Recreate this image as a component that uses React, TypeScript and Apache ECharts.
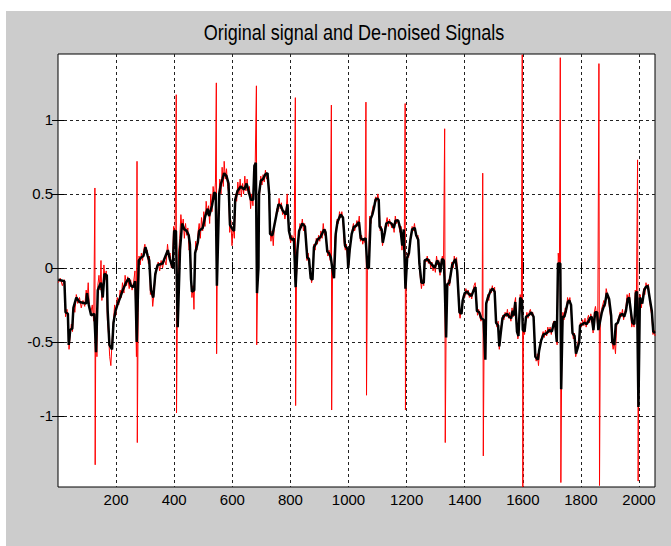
import React, { useEffect, useRef } from 'react';
import * as echarts from 'echarts';

const titleText = 'Original signal and De-noised Signals';
const xTicks = [200, 400, 600, 800, 1000, 1200, 1400, 1600, 1800, 2000];
const yTicks = [-1, -0.5, 0, 0.5, 1];
const xMin = 0;
const xMax = 2055;
const yMin = -1.48;
const yMax = 1.445;

// De-noised signal (black)
const denoised: number[][] = [
  [1, -0.08], [22, -0.09], [26, -0.3], [34, -0.31], [37, -0.52], [42, -0.42], [49, -0.41], [53, -0.27], [63, -0.2], [74, -0.23],
  [97, -0.24], [100, -0.17], [106, -0.25], [114, -0.32], [125, -0.31], [131, -0.57], [137, -0.15], [143, -0.12], [148, -0.1], [154, -0.2],
  [160, -0.04], [168, -0.05], [171, -0.29], [177, -0.52], [186, -0.55], [191, -0.37], [198, -0.29], [206, -0.24], [214, -0.2], [223, -0.15],
  [234, -0.1], [243, -0.07], [251, -0.12], [259, -0.13], [266, -0.09], [271, -0.5], [278, 0.05], [286, 0.07], [294, 0.08], [301, 0.14],
  [309, 0.08], [314, 0.05], [320, -0.15], [328, -0.2], [335, -0.04],
  [343, 0.02], [360, 0.03], [378, 0.12], [385, 0.06], [395, 0.0], [400, 0.25], [406, 0.25], [412, -0.4], [420, 0.12], [427, 0.3],
  [435, 0.26], [443, 0.25], [450, 0.22], [454, 0.16], [458, -0.08], [461, -0.16], [469, -0.15], [472, 0.1], [481, 0.17], [486, 0.25],
  [498, 0.27], [507, 0.35], [515, 0.4], [520, 0.35], [530, 0.42], [538, 0.51], [543, 0.5], [547, -0.12], [555, 0.5], [561, 0.57],
  [566, 0.6], [572, 0.64], [580, 0.62], [587, 0.57], [592, 0.29], [598, 0.27], [606, 0.25], [610, 0.46], [618, 0.52], [629, 0.55],
  [641, 0.53], [649, 0.57], [656, 0.52], [664, 0.46], [672, 0.46], [676, 0.69], [681, 0.71], [685, -0.17], [690, 0.0],
  [692, 0.5], [698, 0.59], [706, 0.6], [713, 0.63], [721, 0.64], [727, 0.5], [730, 0.23], [738, 0.22], [744, 0.28], [752, 0.36],
  [759, 0.43], [767, 0.42], [773, 0.39], [784, 0.36], [790, 0.43], [795, 0.25], [801, 0.2], [807, 0.19], [812, 0.2], [818, -0.13],
  [824, 0.12], [830, 0.25], [841, 0.3], [850, 0.28], [858, 0.07], [864, 0.06], [870, -0.07], [876, -0.08], [881, 0.14], [887, 0.16],
  [893, 0.19], [904, 0.21], [916, 0.26], [921, 0.24], [927, 0.11], [933, 0.1], [939, 0.07], [944, 0.0], [950, -0.07], [956, 0.23],
  [962, 0.31], [973, 0.36], [981, 0.34], [988, 0.15], [996, 0.13], [999, 0.0], [1004, 0.12], [1011, 0.23], [1019, 0.28], [1024, 0.28],
  [1036, 0.31], [1042, 0.2], [1049, 0.19], [1059, 0.2], [1065, 0.0], [1070, 0.0], [1076, 0.33], [1082, 0.36], [1087, 0.4], [1093, 0.46],
  [1099, 0.47], [1104, 0.46], [1107, 0.28], [1114, 0.26], [1118, 0.17], [1125, 0.24], [1130, 0.3], [1139, 0.31], [1148, 0.3], [1156, 0.27],
  [1162, 0.32], [1171, 0.32], [1179, 0.26], [1185, 0.15], [1190, 0.26], [1196, -0.14], [1202, 0.07], [1208, 0.1], [1213, 0.19], [1219, 0.26],
  [1228, 0.27], [1233, 0.22], [1240, 0.19], [1244, 0.03], [1251, -0.1], [1259, -0.1], [1262, 0.05], [1271, 0.06], [1279, 0.04], [1288, 0.02],
  [1297, 0.0], [1305, 0.05], [1311, 0.03], [1316, -0.03], [1322, 0.06], [1328, 0.05], [1331, -0.1], [1336, -0.47], [1340, -0.11], [1347, -0.1],
  [1357, 0.02], [1368, 0.06],
  [1374, -0.02], [1382, -0.3], [1389, -0.31], [1393, -0.22], [1400, -0.17], [1408, -0.16], [1416, -0.18], [1423, -0.19], [1431, -0.15], [1437, -0.13],
  [1442, -0.29], [1450, -0.3], [1457, -0.34], [1465, -0.35], [1471, -0.62], [1474, -0.24], [1480, -0.2], [1488, -0.16], [1496, -0.14], [1503, -0.16],
  [1508, -0.37], [1515, -0.39], [1519, -0.53], [1524, -0.44], [1530, -0.34], [1537, -0.32], [1546, -0.31], [1553, -0.33], [1560, -0.34], [1565, -0.29],
  [1570, -0.32], [1574, -0.23], [1580, -0.43], [1585, -0.46], [1591, -0.2], [1597, -0.22], [1600, -0.42], [1606, -0.43], [1611, -0.33], [1620, -0.32],
  [1629, -0.3], [1637, -0.33], [1643, -0.6], [1652, -0.62], [1656, -0.56], [1663, -0.49], [1671, -0.45], [1683, -0.44], [1691, -0.42], [1700, -0.43],
  [1706, -0.38], [1711, -0.36],
  [1717, -0.5], [1721, 0.03], [1729, 0.03], [1732, -0.82], [1737, -0.33], [1743, -0.33], [1748, -0.29], [1755, -0.23], [1760, -0.22], [1766, -0.25],
  [1771, -0.44], [1778, -0.46], [1783, -0.58], [1789, -0.54], [1794, -0.5], [1797, -0.39], [1805, -0.38], [1812, -0.37], [1820, -0.38], [1826, -0.36],
  [1831, -0.34], [1837, -0.33], [1843, -0.42], [1849, -0.3], [1856, -0.3], [1860, -0.42], [1866, -0.36], [1872, -0.3], [1877, -0.27], [1883, -0.24],
  [1889, -0.17], [1897, -0.21], [1904, -0.32], [1908, -0.5], [1915, -0.52], [1920, -0.38], [1927, -0.37], [1935, -0.32], [1943, -0.31], [1949, -0.33],
  [1955, -0.29], [1961, -0.21], [1966, -0.2], [1973, -0.31], [1977, -0.37], [1984, -0.38], [1989, -0.17], [1993, -0.16], [1998, -0.94], [2003, -0.2],
  [2011, -0.24], [2018, -0.15], [2023, -0.13], [2030, -0.12], [2038, -0.22], [2044, -0.29], [2049, -0.43], [2055, -0.44],
];

// Original noisy signal (red)
const original: number[][] = [
  [1, -0.1], [8, -0.07], [15, -0.12], [22, -0.08], [26, -0.33], [31, -0.28], [35, -0.36], [38, -0.55], [42, -0.45], [46, -0.38],
  [50, -0.43], [54, -0.25], [58, -0.3], [63, -0.18], [68, -0.24], [74, -0.2], [80, -0.27], [86, -0.22], [92, -0.26], [97, -0.15],
  [101, -0.2], [104, -0.1], [108, -0.28], [113, -0.3], [118, -0.25], [123, -0.36], [127, 0.54], [128, -1.33], [130, -0.4], [134, -0.6],
  [137, -0.12], [141, -0.05], [145, -0.15], [148, 0.05], [151, -0.22], [155, -0.12], [158, 0.02], [162, -0.08], [166, -0.02], [170, -0.35],
  [174, -0.45], [178, -0.6], [182, -0.66], [186, -0.5], [190, -0.38], [195, -0.25], [199, -0.32], [204, -0.2], [209, -0.25], [214, -0.15],
  [218, -0.2], [222, -0.1], [227, -0.17], [231, -0.05], [236, -0.12], [240, -0.06], [245, -0.14], [250, -0.08], [255, -0.15], [260, -0.1],
  [265, -0.02], [270, -0.6], [272, 0.72], [273, -1.18], [276, -0.3], [279, 0.08], [283, 0.02], [287, 0.1], [291, 0.05], [295, 0.12],
  [299, 0.16], [303, 0.1], [307, 0.12], [311, 0.03], [315, 0.08], [318, -0.18], [322, -0.12], [326, -0.26], [330, -0.18], [335, -0.06],
  [340, 0.0], [345, 0.04], [350, -0.02], [355, 0.05], [360, 0.0], [366, 0.06], [372, 0.02], [377, 0.16], [381, 0.08], [386, 0.1],
  [390, 0.0], [394, 0.04], [398, 0.28], [403, 0.2], [407, 1.17], [408, -0.98], [411, -0.3], [415, 0.1], [419, 0.2], [423, 0.36],
  [427, 0.26], [431, 0.33], [435, 0.2], [439, 0.3], [443, 0.22], [447, 0.27], [451, 0.12], [455, 0.15], [458, -0.05], [461, -0.2],
  [465, -0.12], [468, -0.28], [471, 0.0], [474, 0.18], [478, 0.12], [482, 0.24], [486, 0.3], [490, 0.2], [494, 0.34], [498, 0.25],
  [502, 0.38], [506, 0.28], [510, 0.45], [514, 0.36], [518, 0.42], [522, 0.3], [526, 0.5], [530, 0.38], [534, 0.55], [538, 0.46],
  [542, 0.58], [545, 1.25], [546, -0.58], [549, 0.2], [553, 0.45], [557, 0.6], [561, 0.5], [565, 0.68], [569, 0.55], [572, 0.72],
  [576, 0.6], [580, 0.67], [584, 0.55], [588, 0.5], [591, 0.24], [595, 0.32], [599, 0.15], [603, 0.28], [607, 0.2], [611, 0.5],
  [615, 0.45], [619, 0.58], [623, 0.5], [627, 0.6], [631, 0.48], [635, 0.57], [639, 0.5], [643, 0.62], [647, 0.52], [651, 0.6],
  [655, 0.5], [659, 0.55], [663, 0.4], [667, 0.5], [671, 0.42], [675, 0.6], [679, 0.72], [683, 1.23], [684, -0.52], [687, -0.1],
  [690, 0.35], [694, 0.5], [698, 0.62], [702, 0.56], [706, 0.63], [710, 0.58], [714, 0.66], [718, 0.6], [722, 0.64], [726, 0.52],
  [729, 0.3], [733, 0.18], [737, 0.25], [741, 0.15], [745, 0.3], [749, 0.33], [753, 0.4], [757, 0.38], [761, 0.47], [765, 0.4],
  [769, 0.44], [773, 0.36], [777, 0.39], [781, 0.33], [785, 0.38], [789, 0.5], [793, 0.3], [797, 0.22], [801, 0.17], [805, 0.22],
  [809, 0.18], [813, 0.22], [817, 1.15], [818, -0.93], [821, -0.05], [825, 0.14], [829, 0.23], [833, 0.3], [837, 0.27], [841, 0.33],
  [845, 0.25], [849, 0.3], [853, 0.22], [857, 0.05], [861, 0.1], [865, 0.02], [869, -0.05], [873, -0.1], [877, -0.04], [881, 0.16],
  [885, 0.12], [889, 0.2], [893, 0.16], [897, 0.22], [901, 0.18], [905, 0.25], [909, 0.2], [913, 0.3], [917, 0.22], [921, 0.26],
  [925, 0.14], [929, 0.08], [933, 0.12], [937, 0.05], [941, 1.1], [942, -0.96], [945, -0.02], [949, -0.05], [953, 0.2], [957, 0.25],
  [961, 0.33], [965, 0.3], [969, 0.38], [973, 0.34], [977, 0.38], [981, 0.32], [985, 0.17], [989, 0.12], [993, 0.16], [997, 0.05],
  [1001, 0.02], [1005, 0.14], [1009, 0.2], [1013, 0.26], [1017, 0.3], [1021, 0.25], [1025, 0.28], [1029, 0.32], [1033, 0.28], [1037, 0.35],
  [1041, 0.18], [1045, 0.22], [1049, 0.16], [1053, 0.2], [1057, 0.17], [1060, 1.12], [1062, -0.86], [1065, -0.02], [1069, 0.02], [1073, 0.35],
  [1077, 0.3], [1081, 0.38], [1085, 0.42], [1089, 0.4], [1093, 0.48], [1097, 0.45], [1101, 0.5], [1105, 0.44], [1109, 0.25], [1113, 0.28],
  [1117, 0.15], [1121, 0.2], [1125, 0.27], [1129, 0.3], [1133, 0.34], [1137, 0.28], [1141, 0.33], [1145, 0.3], [1149, 0.27], [1153, 0.3],
  [1157, 0.24], [1161, 0.35], [1165, 0.3], [1169, 0.33], [1173, 0.29], [1177, 0.24], [1181, 0.28], [1184, 0.12], [1188, 0.24], [1192, 0.2],
  [1195, 1.11], [1196, -0.96], [1199, 0.0], [1203, 0.1], [1207, 0.07], [1211, 0.16], [1215, 0.22], [1219, 0.28], [1223, 0.25], [1227, 0.3],
  [1231, 0.24], [1235, 0.2], [1239, 0.22], [1243, 0.05], [1247, -0.06], [1251, -0.14], [1255, -0.08], [1259, -0.12], [1263, 0.06], [1267, 0.04],
  [1271, 0.08], [1275, 0.03], [1279, 0.06], [1283, 0.0], [1287, 0.04], [1291, -0.02], [1295, 0.02], [1299, -0.03], [1303, 0.08], [1307, 0.02],
  [1311, 0.05], [1315, -0.05], [1319, 0.04], [1323, 0.08], [1327, 0.03], [1331, 0.94], [1333, -1.18], [1336, -0.4], [1340, -0.14], [1344, -0.08],
  [1348, -0.12], [1352, -0.05], [1356, 0.04], [1360, 0.0], [1364, 0.08], [1368, 0.04], [1372, 0.07], [1376, -0.05], [1380, -0.28], [1384, -0.34],
  [1388, -0.28], [1392, -0.25], [1396, -0.18], [1400, -0.2], [1404, -0.14], [1408, -0.18], [1412, -0.15], [1416, -0.2], [1420, -0.17], [1424, -0.21],
  [1428, -0.16], [1432, -0.12], [1436, -0.1], [1440, -0.2], [1444, -0.32], [1448, -0.28], [1452, -0.33], [1456, -0.36], [1460, -0.32], [1462, 0.64],
  [1464, -1.27], [1467, -0.4], [1471, -0.55], [1475, -0.25], [1479, -0.18], [1483, -0.22], [1487, -0.14], [1491, -0.17], [1495, -0.12], [1499, -0.16],
  [1503, -0.13], [1507, -0.35], [1511, -0.4], [1515, -0.36], [1519, -0.55], [1523, -0.42], [1527, -0.38], [1531, -0.32], [1535, -0.35], [1539, -0.3],
  [1543, -0.33], [1547, -0.28], [1551, -0.34], [1555, -0.3], [1559, -0.36], [1563, -0.27], [1567, -0.33], [1571, -0.25], [1575, -0.2], [1579, -0.4],
  [1583, -0.48], [1587, -0.42], [1591, -0.18], [1595, -0.24], [1598, 1.44], [1600, -1.48], [1602, -0.4], [1606, -0.45], [1610, -0.35], [1614, -0.3],
  [1618, -0.34], [1622, -0.3], [1626, -0.28], [1630, -0.32], [1634, -0.3], [1638, -0.36], [1642, -0.58], [1646, -0.63], [1650, -0.58], [1654, -0.66],
  [1658, -0.54], [1662, -0.5], [1666, -0.46], [1670, -0.43], [1674, -0.47], [1678, -0.42], [1682, -0.46], [1686, -0.4], [1690, -0.44], [1694, -0.4],
  [1698, -0.45], [1702, -0.4], [1706, -0.36], [1710, -0.38], [1714, -0.46], [1718, -0.52], [1722, 0.1], [1726, 0.0], [1729, 1.42], [1731, -1.45],
  [1734, -0.6], [1738, -0.3], [1742, -0.35], [1746, -0.27], [1750, -0.3], [1754, -0.2], [1758, -0.24], [1762, -0.2], [1766, -0.27], [1770, -0.42],
  [1774, -0.48], [1778, -0.44], [1782, -0.6], [1786, -0.56], [1790, -0.5], [1794, -0.47], [1798, -0.37], [1802, -0.4], [1806, -0.35], [1810, -0.39],
  [1814, -0.34], [1818, -0.4], [1822, -0.35], [1826, -0.32], [1830, -0.37], [1834, -0.31], [1838, -0.35], [1842, -0.44], [1846, -0.3], [1850, -0.26],
  [1854, -0.32], [1858, -0.4], [1862, 1.38], [1864, -1.47], [1867, -0.35], [1871, -0.28], [1875, -0.25], [1879, -0.22], [1883, -0.26], [1887, -0.14],
  [1891, -0.18], [1895, -0.22], [1899, -0.28], [1903, -0.35], [1907, -0.5], [1911, -0.55], [1915, -0.5], [1919, -0.58], [1923, -0.4], [1927, -0.35],
  [1931, -0.33], [1935, -0.3], [1939, -0.33], [1943, -0.28], [1947, -0.35], [1951, -0.3], [1955, -0.26], [1959, -0.18], [1963, -0.22], [1967, -0.17],
  [1971, -0.3], [1975, -0.4], [1979, -0.36], [1983, -0.4], [1987, -0.15], [1991, -0.2], [1995, 0.73], [1997, -1.44], [2000, -0.25], [2004, -0.18],
  [2008, -0.27], [2012, -0.2], [2016, -0.14], [2020, -0.18], [2024, -0.1], [2028, -0.14], [2032, -0.11], [2036, -0.2], [2040, -0.28], [2044, -0.32],
  [2048, -0.45], [2052, -0.42], [2055, -0.46],
];

const FONT = '"Liberation Sans", Arial, sans-serif';

export default function App() {
  const ref = useRef<HTMLDivElement>(null);
  useEffect(() => {
    if (!ref.current) return;
    const chart = echarts.init(ref.current, null, { renderer: 'svg' });
    const tickStyle = { color: '#000', width: 1 };
    const gridLine = { show: true, lineStyle: { color: '#222', width: 1, type: [3, 3] as any } };
    chart.setOption({
      animation: false,
      backgroundColor: '#cccccc',
      graphic: [
        {
          type: 'text',
          x: 348,
          y: 21,
          scaleX: 0.82,
          style: {
            text: titleText,
            fontSize: 22,
            fontFamily: FONT,
            fill: '#000',
            align: 'center',
            verticalAlign: 'middle',
          },
        },
      ],
      grid: {
        left: 52,
        top: 43,
        right: 16,
        bottom: 59,
        show: true,
        backgroundColor: '#ffffff',
        borderColor: '#000',
        borderWidth: 1,
        containLabel: false,
      },
      xAxis: [
        {
          type: 'value',
          position: 'bottom',
          min: xMin,
          max: xMax,
          axisLine: { show: false },
          axisTick: { show: true, inside: true, length: 6, lineStyle: tickStyle, customValues: xTicks },
          axisLabel: {
            show: true,
            customValues: xTicks,
            formatter: (v: number) => String(v),
            color: '#000',
            fontSize: 15,
            fontFamily: FONT,
            margin: 5,
          },
          splitLine: gridLine,
        },
        {
          type: 'value',
          position: 'top',
          min: xMin,
          max: xMax,
          axisLine: { show: false },
          axisTick: { show: true, inside: true, length: 6, lineStyle: tickStyle, customValues: xTicks },
          axisLabel: { show: false },
          splitLine: { show: false },
        },
      ],
      yAxis: [
        {
          type: 'value',
          position: 'left',
          min: yMin,
          max: yMax,
          axisLine: { show: false },
          axisTick: { show: true, inside: true, length: 6, lineStyle: tickStyle, customValues: yTicks },
          axisLabel: {
            show: true,
            customValues: yTicks,
            formatter: (v: number) => String(v),
            color: '#000',
            fontSize: 15,
            fontFamily: FONT,
            margin: 5,
          },
          splitLine: gridLine,
        },
        {
          type: 'value',
          position: 'right',
          min: yMin,
          max: yMax,
          axisLine: { show: false },
          axisTick: { show: true, inside: true, length: 6, lineStyle: tickStyle, customValues: yTicks },
          axisLabel: { show: false },
          splitLine: { show: false },
        },
      ],
      series: [
        {
          name: 'Original',
          type: 'line',
          xAxisIndex: 0,
          yAxisIndex: 0,
          data: original,
          showSymbol: false,
          symbol: 'none',
          lineStyle: { color: '#ff0000', width: 1 },
          itemStyle: { color: '#ff0000' },
          clip: true,
          silent: true,
        },
        {
          name: 'De-noised',
          type: 'line',
          xAxisIndex: 0,
          yAxisIndex: 0,
          data: denoised,
          showSymbol: false,
          symbol: 'none',
          lineStyle: { color: '#000000', width: 2.5 },
          itemStyle: { color: '#000000' },
          clip: true,
          silent: true,
        },
      ],
    });
    return () => {
      chart.dispose();
    };
  }, []);
  return (
    <div
      ref={ref}
      style={{ position: 'absolute', left: 6, top: 11, width: 665, height: 535 }}
    />
  );
}
